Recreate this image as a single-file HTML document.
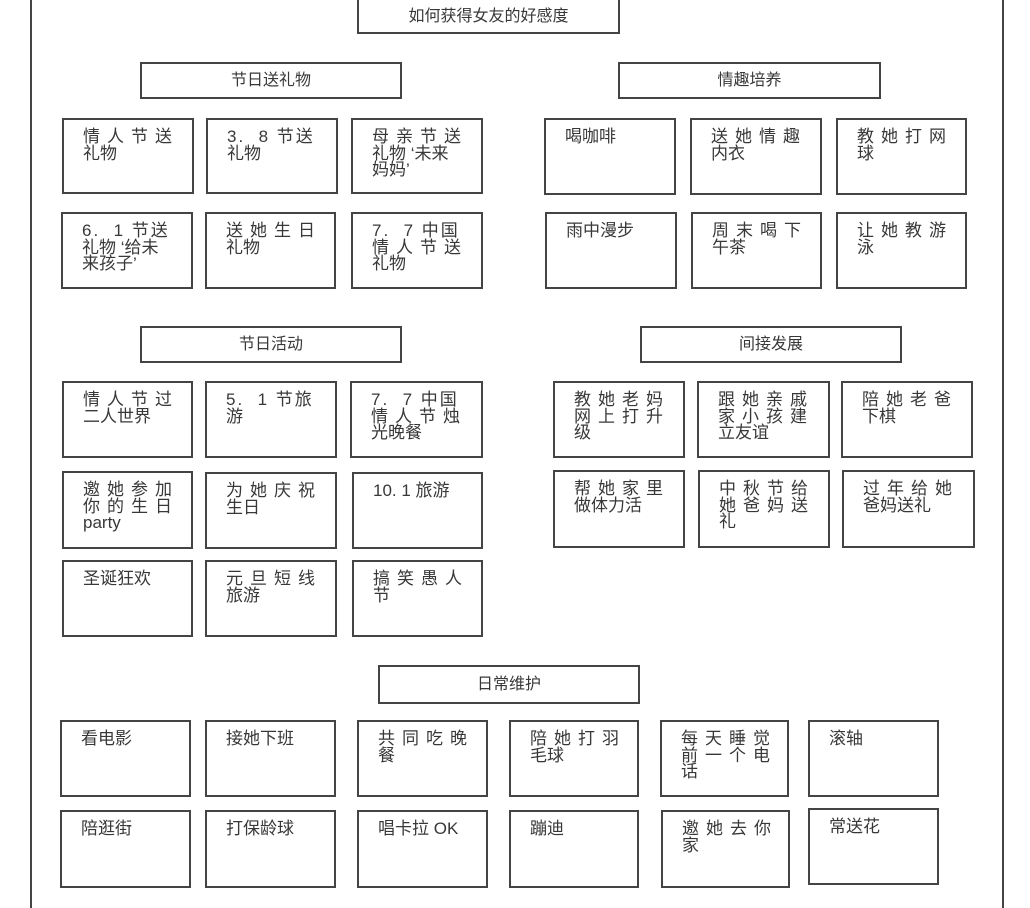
<!DOCTYPE html>
<html><head><meta charset="utf-8"><style>
body{margin:0;background:#fff;width:1030px;height:908px;position:relative;overflow:hidden;font-family:"Liberation Sans","Noto Sans CJK SC",sans-serif;color:#383838;}
.b{position:absolute;border:2px solid #444;box-sizing:border-box;background:#fff;font-size:17px;line-height:16.5px;padding:9px 0 0 19px;}
.h{position:absolute;border:2px solid #444;box-sizing:border-box;background:#fff;font-size:16px;text-align:center;}
.s{letter-spacing:7px;white-space:nowrap;}
.d{letter-spacing:2px;white-space:nowrap;}
.n{white-space:nowrap;}
.v{position:absolute;top:0;width:2px;height:908px;background:#444;}
</style></head><body>
<div class="v" style="left:30px"></div>
<div class="v" style="left:1002px"></div>
<div class="h" style="left:357px;top:-2px;width:263px;height:36px;line-height:34px;">如何获得女友的好感度</div>

<div class="h" style="left:140px;top:62px;width:262px;height:37px;line-height:33px;">节日送礼物</div>
<div class="b" style="left:62px;top:118px;width:132px;height:76px;"><div class="s">情人节送</div><div class="n">礼物</div></div>
<div class="b" style="left:206px;top:118px;width:132px;height:76px;"><div class="d">3.&nbsp;&nbsp;8 节送</div><div class="n">礼物</div></div>
<div class="b" style="left:351px;top:118px;width:132px;height:76px;"><div class="s">母亲节送</div><div class="n">礼物 ‘未来</div><div class="n">妈妈’</div></div>
<div class="b" style="left:61px;top:212px;width:132px;height:77px;"><div class="d">6.&nbsp;&nbsp;1 节送</div><div class="n">礼物 ‘给未</div><div class="n">来孩子’</div></div>
<div class="b" style="left:205px;top:212px;width:131px;height:77px;"><div class="s">送她生日</div><div class="n">礼物</div></div>
<div class="b" style="left:351px;top:212px;width:132px;height:77px;"><div class="d">7.&nbsp;&nbsp;7 中国</div><div class="s">情人节送</div><div class="n">礼物</div></div>

<div class="h" style="left:618px;top:62px;width:263px;height:37px;line-height:33px;">情趣培养</div>
<div class="b" style="left:544px;top:118px;width:132px;height:77px;"><div class="n">喝咖啡</div></div>
<div class="b" style="left:690px;top:118px;width:132px;height:77px;"><div class="s">送她情趣</div><div class="n">内衣</div></div>
<div class="b" style="left:836px;top:118px;width:131px;height:77px;"><div class="s">教她打网</div><div class="n">球</div></div>
<div class="b" style="left:545px;top:212px;width:132px;height:77px;"><div class="n">雨中漫步</div></div>
<div class="b" style="left:691px;top:212px;width:131px;height:77px;"><div class="s">周末喝下</div><div class="n">午茶</div></div>
<div class="b" style="left:836px;top:212px;width:131px;height:77px;"><div class="s">让她教游</div><div class="n">泳</div></div>

<div class="h" style="left:140px;top:326px;width:262px;height:37px;line-height:33px;">节日活动</div>
<div class="b" style="left:62px;top:381px;width:131px;height:77px;"><div class="s">情人节过</div><div class="n">二人世界</div></div>
<div class="b" style="left:205px;top:381px;width:132px;height:77px;"><div class="d">5.&nbsp;&nbsp;1 节旅</div><div class="n">游</div></div>
<div class="b" style="left:350px;top:381px;width:133px;height:77px;"><div class="d">7.&nbsp;&nbsp;7 中国</div><div class="s">情人节烛</div><div class="n">光晚餐</div></div>
<div class="b" style="left:62px;top:471px;width:131px;height:78px;"><div class="s">邀她参加</div><div class="s">你的生日</div><div class="n">party</div></div>
<div class="b" style="left:205px;top:472px;width:132px;height:77px;"><div class="s">为她庆祝</div><div class="n">生日</div></div>
<div class="b" style="left:352px;top:472px;width:131px;height:77px;"><div class="n">10. 1 旅游</div></div>
<div class="b" style="left:62px;top:560px;width:131px;height:77px;"><div class="n">圣诞狂欢</div></div>
<div class="b" style="left:205px;top:560px;width:132px;height:77px;"><div class="s">元旦短线</div><div class="n">旅游</div></div>
<div class="b" style="left:352px;top:560px;width:131px;height:77px;"><div class="s">搞笑愚人</div><div class="n">节</div></div>

<div class="h" style="left:640px;top:326px;width:262px;height:37px;line-height:33px;">间接发展</div>
<div class="b" style="left:553px;top:381px;width:132px;height:77px;"><div class="s">教她老妈</div><div class="s">网上打升</div><div class="n">级</div></div>
<div class="b" style="left:697px;top:381px;width:133px;height:77px;"><div class="s">跟她亲戚</div><div class="s">家小孩建</div><div class="n">立友谊</div></div>
<div class="b" style="left:841px;top:381px;width:132px;height:77px;"><div class="s">陪她老爸</div><div class="n">下棋</div></div>
<div class="b" style="left:553px;top:470px;width:132px;height:78px;"><div class="s">帮她家里</div><div class="n">做体力活</div></div>
<div class="b" style="left:698px;top:470px;width:132px;height:78px;"><div class="s">中秋节给</div><div class="s">她爸妈送</div><div class="n">礼</div></div>
<div class="b" style="left:842px;top:470px;width:133px;height:78px;"><div class="s">过年给她</div><div class="n">爸妈送礼</div></div>

<div class="h" style="left:378px;top:665px;width:262px;height:39px;line-height:35px;">日常维护</div>
<div class="b" style="left:60px;top:720px;width:131px;height:77px;"><div class="n">看电影</div></div>
<div class="b" style="left:205px;top:720px;width:131px;height:77px;"><div class="n">接她下班</div></div>
<div class="b" style="left:357px;top:720px;width:131px;height:77px;"><div class="s">共同吃晚</div><div class="n">餐</div></div>
<div class="b" style="left:509px;top:720px;width:130px;height:77px;"><div class="s">陪她打羽</div><div class="n">毛球</div></div>
<div class="b" style="left:660px;top:720px;width:129px;height:77px;"><div class="s">每天睡觉</div><div class="s">前一个电</div><div class="n">话</div></div>
<div class="b" style="left:808px;top:720px;width:131px;height:77px;"><div class="n">滚轴</div></div>
<div class="b" style="left:60px;top:810px;width:131px;height:78px;"><div class="n">陪逛街</div></div>
<div class="b" style="left:205px;top:810px;width:131px;height:78px;"><div class="n">打保龄球</div></div>
<div class="b" style="left:357px;top:810px;width:131px;height:78px;"><div class="n">唱卡拉 OK</div></div>
<div class="b" style="left:509px;top:810px;width:130px;height:78px;"><div class="n">蹦迪</div></div>
<div class="b" style="left:661px;top:810px;width:129px;height:78px;"><div class="s">邀她去你</div><div class="n">家</div></div>
<div class="b" style="left:808px;top:808px;width:131px;height:77px;"><div class="n">常送花</div></div>
</body></html>
